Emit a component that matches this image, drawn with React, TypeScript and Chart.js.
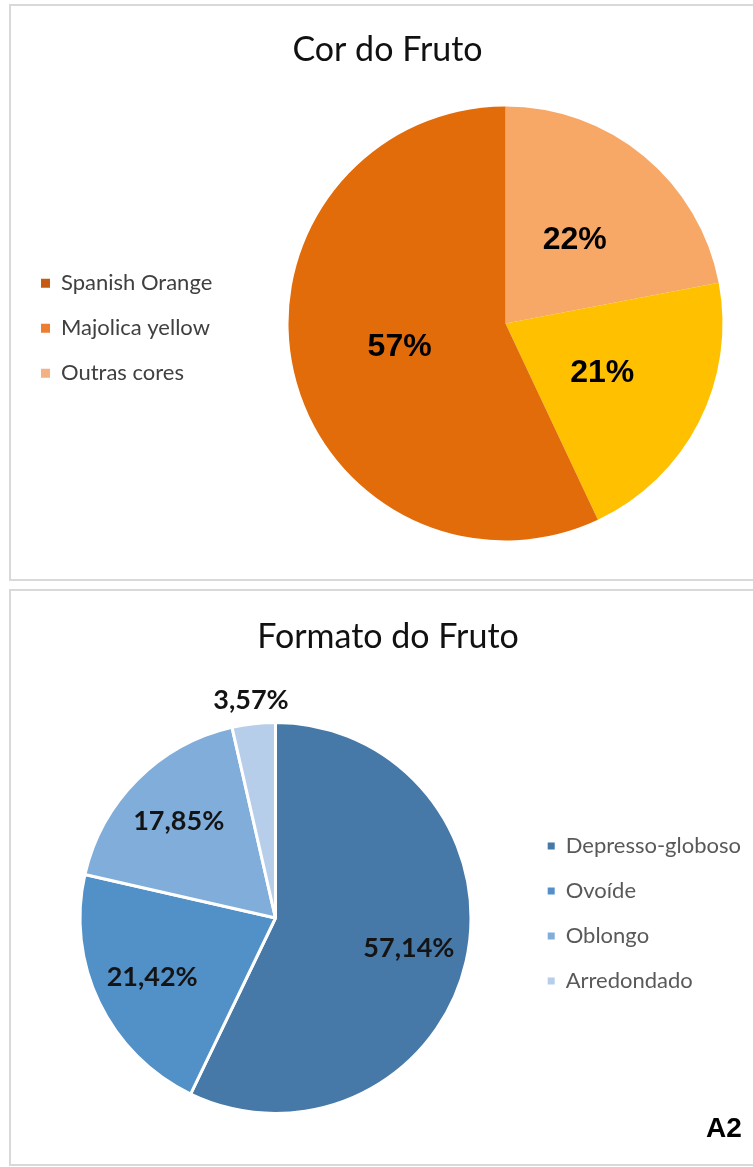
import React, { useEffect, useRef } from 'react';
import { Chart, registerables } from 'chart.js';

Chart.register(...registerables);

// ---------- Data: "Cor do Fruto" ----------
const corTitle = 'Cor do Fruto';
const corCategories = ['Spanish Orange', 'Majolica yellow', 'Outras cores'];
const corValues = [57, 21, 22];
const corSliceColors = ['#E36C0A', '#FFC000', '#F7A766'];
const corLegendColors = ['#C55A11', '#ED7D31', '#F4B183'];
// order of the slices clockwise from 12 o'clock (indexes into corCategories)
const corSliceOrder = [2, 1, 0];

// ---------- Data: "Formato do Fruto" ----------
const formatoTitle = 'Formato do Fruto';
const formatoCategories = ['Depresso-globoso', 'Ovoíde', 'Oblongo', 'Arredondado'];
const formatoValues = [57.14, 21.42, 17.85, 3.57];
const formatoColors = ['#4678A8', '#5290C8', '#81ADDB', '#B7CEEA'];

const panelNote = 'A2';

const FONT = 'Lato, "Open Sans", sans-serif';

// Gives the legend a fixed box width and a small vertical shift
const legendBoxPlugin = (id: string, width: number, dy: number) => ({
  id,
  beforeLayout(chart: any) {
    const lg = chart.legend;
    if (lg && !lg.__patched) {
      const orig = lg.fit.bind(lg);
      lg.fit = function () {
        orig();
        this.width = width;
      };
      lg.__patched = true;
    }
  },
  afterLayout(chart: any) {
    const lg = chart.legend;
    if (lg) {
      lg.top += dy;
      lg.bottom += dy;
    }
  },
});

// Draws the percentage labels on the slices
const sliceLabelPlugin = (
  id: string,
  font: string,
  color: string,
  inside: number,
  outside: number,
  threshold: number,
  format: (v: number, total: number) => string
) => ({
  id,
  afterDatasetsDraw(chart: any) {
    const ctx = chart.ctx;
    const meta = chart.getDatasetMeta(0);
    const data = chart.data.datasets[0].data as number[];
    const total = data.reduce((a, b) => a + b, 0);
    ctx.save();
    ctx.font = font;
    ctx.fillStyle = color;
    ctx.textAlign = 'center';
    ctx.textBaseline = 'middle';
    meta.data.forEach((arc: any, i: number) => {
      const p = arc.getProps(['x', 'y', 'startAngle', 'endAngle', 'outerRadius'], true);
      const mid = (p.startAngle + p.endAngle) / 2;
      const frac = data[i] / total;
      const r = p.outerRadius * (frac < threshold ? outside : inside);
      ctx.fillText(format(data[i], total), p.x + Math.cos(mid) * r, p.y + Math.sin(mid) * r);
    });
    ctx.restore();
  },
});

export default function App() {
  const topRef = useRef<HTMLCanvasElement | null>(null);
  const bottomRef = useRef<HTMLCanvasElement | null>(null);

  useEffect(() => {
    if (!topRef.current || !bottomRef.current) return;

    const topChart = new Chart(topRef.current, {
      type: 'pie',
      data: {
        labels: corSliceOrder.map((i) => corCategories[i]),
        datasets: [
          {
            data: corSliceOrder.map((i) => corValues[i]),
            backgroundColor: corSliceOrder.map((i) => corSliceColors[i]),
            borderWidth: 0,
            hoverOffset: 0,
          },
        ],
      },
      options: {
        responsive: false,
        animation: false,
        layout: { padding: { top: 0, left: 18, right: 3, bottom: 40.5 } },
        plugins: {
          title: {
            display: true,
            text: corTitle,
            color: '#111111',
            font: { family: FONT, size: 34, weight: 'normal' },
            padding: { top: 29.6, bottom: 36.1 },
          },
          legend: {
            position: 'left',
            fullSize: false,
            align: 'center',
            labels: {
              font: { family: FONT, size: 22 },
              color: '#404040',
              boxWidth: 9,
              boxHeight: 9,
              padding: 23,
              generateLabels: () =>
                corCategories.map((text, i) => ({
                  text,
                  fillStyle: corLegendColors[i],
                  strokeStyle: corLegendColors[i],
                  lineWidth: 0,
                  hidden: false,
                  index: corSliceOrder.indexOf(i),
                  fontColor: '#404040',
                })),
            },
          },
          tooltip: { enabled: false },
        },
      } as any,
      plugins: [
        legendBoxPlugin('legendBoxTop', 236, 4.8),
        sliceLabelPlugin('labelsTop', 'bold 32px "Liberation Sans", Arial, sans-serif', '#000000', 0.5, 0.5, 0, (v, t) =>
          `${Math.round((v / t) * 100)}%`
        ),
      ],
    });

    const bottomChart = new Chart(bottomRef.current, {
      type: 'pie',
      data: {
        labels: formatoCategories,
        datasets: [
          {
            data: formatoValues,
            backgroundColor: formatoColors,
            borderColor: '#ffffff',
            borderWidth: 3,
            hoverOffset: 0,
          },
        ],
      },
      options: {
        responsive: false,
        animation: false,
        layout: { padding: { top: 0, left: 26.3, right: 10.3, bottom: 50 } },
        plugins: {
          title: {
            display: true,
            text: formatoTitle,
            color: '#111111',
            font: { family: FONT, size: 34, weight: 'normal' },
            padding: { top: 25.6, bottom: 63.6 },
          },
          legend: {
            position: 'right',
            fullSize: false,
            align: 'center',
            labels: {
              font: { family: FONT, size: 22 },
              color: '#595959',
              boxWidth: 7,
              boxHeight: 7,
              padding: 23,
              generateLabels: () =>
                formatoCategories.map((text, i) => ({
                  text,
                  fillStyle: formatoColors[i],
                  strokeStyle: formatoColors[i],
                  lineWidth: 0,
                  hidden: false,
                  index: i,
                  fontColor: '#595959',
                })),
            },
          },
          tooltip: { enabled: false },
        },
      } as any,
      plugins: [
        legendBoxPlugin('legendBoxBottom', 225, -4.5),
        sliceLabelPlugin('labelsBottom', `bold 27px ${FONT}`, '#141414', 0.7, 1.12, 0.05, (v) =>
          `${v.toFixed(2).replace('.', ',')}%`
        ),
      ],
    });

    return () => {
      topChart.destroy();
      bottomChart.destroy();
    };
  }, []);

  const panel: React.CSSProperties = {
    position: 'absolute',
    left: 9,
    width: 760,
    height: 577,
    border: '2px solid #d9d9d9',
    boxSizing: 'border-box',
  };

  return (
    <div
      style={{
        position: 'absolute',
        left: 0,
        top: 0,
        width: 753,
        height: 1167,
        overflow: 'hidden',
        background: '#ffffff',
      }}
    >
      <div style={{ ...panel, top: 4 }} />
      <div style={{ ...panel, top: 589 }} />
      <canvas
        ref={topRef}
        width={760}
        height={581}
        style={{ position: 'absolute', left: 0, top: 0, width: 760, height: 581 }}
      />
      <canvas
        ref={bottomRef}
        width={760}
        height={574}
        style={{ position: 'absolute', left: 0, top: 591, width: 760, height: 574 }}
      />
      <div
        style={{
          position: 'absolute',
          left: 706,
          top: 1114,
          fontFamily: '"Liberation Sans", Arial, sans-serif',
          fontWeight: 'bold',
          fontSize: 28,
          lineHeight: '28px',
          color: '#000000',
        }}
      >
        {panelNote}
      </div>
    </div>
  );
}
